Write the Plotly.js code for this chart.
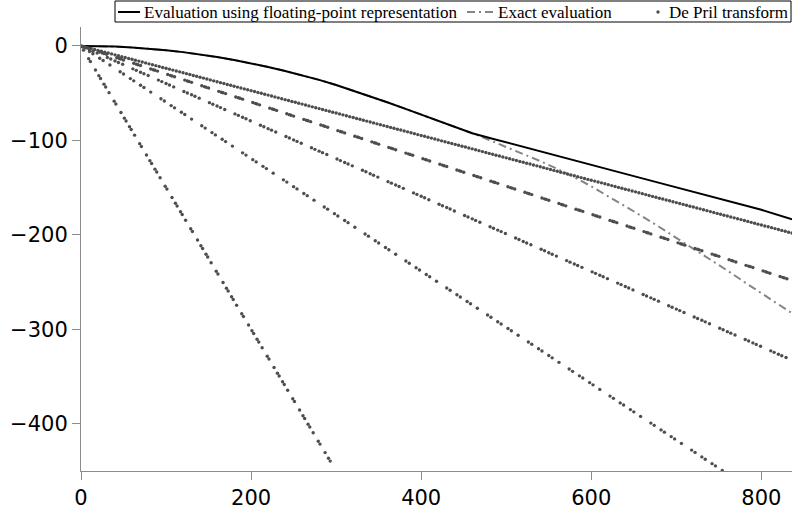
<!DOCTYPE html>
<html>
<head>
<meta charset="utf-8">
<script src="https://cdn.plot.ly/plotly-3.0.1.min.js"></script>
<style>html,body{margin:0;padding:0;background:#fff;}#chart{width:792px;height:514px;}</style>
</head>
<body>
<div id="chart"></div>
<script>
// Curves
const floatX = [0,20,40,60,80,100,120,140,160,180,200,220,240,260,280,300,320,340,360,380,400,420,440,460,485,520,560,600,640,680,720,760,800,836];
const floatY = [0,-0.2,-0.7,-1.7,-2.9,-4.6,-6.6,-9.0,-11.8,-14.9,-18.4,-22.3,-26.5,-31.1,-36,-41.4,-47.2,-53.2,-59.6,-66.1,-72.6,-79.1,-85.6,-92.5,-98.5,-107,-116.5,-126,-135.5,-145,-154.5,-164,-173.5,-183.5];
const exactX = [0,20,40,60,80,100,120,140,160,180,200,220,240,260,280,300,320,340,360,380,400,420,440,460,480,500,520,540,560,580,600,620,640,660,680,700,720,740,760,780,800,820,836];
const exactY = [0,-0.2,-0.7,-1.7,-2.9,-4.6,-6.6,-9.0,-11.8,-14.9,-18.4,-22.3,-26.5,-31.1,-36,-41.4,-47.2,-53.2,-59.6,-66.1,-72.6,-79.1,-85.6,-92.5,-99.6,-107,-114.4,-122,-130.2,-139,-148.7,-159,-169.6,-180.5,-191.7,-203,-214.4,-226,-237.8,-250,-262,-274,-283];

// De Pril transform dots, grouped by the band they fall on
const deprilAX = [0,4,8,12,16,20,24,28,32,36,40,44,48,52,56,60,64,68,72,76,80,84,88,92,96,100,104,108,112,116,120,124,128,132,136,140,144,148,152,156,160,164,168,172,176,180,184,188,192,196,200,204,208,212,216,220,224,228,232,236,240,244,248,252,256,260,264,268,272,276,280,284,288,292,296,300,304,308,312,316,320,324,328,332,336,340,344,348,352,356,360,364,368,372,376,380,384,388,392,396,400,404,408,412,416,420,424,428,432,436,440,444,448,452,456,460,464,468,472,476,480,484,488,492,496,500,504,508,512,516,520,524,528,532,536,540,544,548,552,556,560,564,568,572,576,580,584,588,592,596,600,604,608,612,616,620,624,628,632,636,640,644,648,652,656,660,664,668,672,676,680,684,688,692,696,700,704,708,712,716,720,724,728,732,736,740,744,748,752,756,760,764,768,772,776,780,784,788,792,796,800,804,808,812,816,820,824,828,832,836];
const deprilAY = [0,-0.9,-1.9,-2.8,-3.8,-4.7,-5.7,-6.6,-7.6,-8.5,-9.5,-10.4,-11.4,-12.3,-13.3,-14.2,-15.2,-16.1,-17.1,-18.0,-19.0,-19.9,-20.9,-21.8,-22.8,-23.7,-24.6,-25.6,-26.5,-27.5,-28.4,-29.4,-30.3,-31.3,-32.2,-33.2,-34.1,-35.1,-36.0,-37.0,-37.9,-38.9,-39.8,-40.8,-41.7,-42.7,-43.6,-44.6,-45.5,-46.5,-47.4,-48.3,-49.3,-50.2,-51.2,-52.1,-53.1,-54.0,-55.0,-55.9,-56.9,-57.8,-58.8,-59.7,-60.7,-61.6,-62.6,-63.5,-64.5,-65.4,-66.4,-67.3,-68.3,-69.2,-70.2,-71.1,-72.0,-73.0,-73.9,-74.9,-75.8,-76.8,-77.7,-78.7,-79.6,-80.6,-81.5,-82.5,-83.4,-84.4,-85.3,-86.3,-87.2,-88.2,-89.1,-90.1,-91.0,-92.0,-92.9,-93.9,-94.8,-95.7,-96.7,-97.6,-98.6,-99.5,-100.5,-101.4,-102.4,-103.3,-104.3,-105.2,-106.2,-107.1,-108.1,-109.0,-110.0,-110.9,-111.9,-112.8,-113.8,-114.7,-115.7,-116.6,-117.6,-118.5,-119.5,-120.4,-121.3,-122.3,-123.2,-124.2,-125.1,-126.1,-127.0,-128.0,-128.9,-129.9,-130.8,-131.8,-132.7,-133.7,-134.6,-135.6,-136.5,-137.5,-138.4,-139.4,-140.3,-141.3,-142.2,-143.1,-144.1,-145.0,-146.0,-146.9,-147.9,-148.8,-149.8,-150.7,-151.7,-152.6,-153.6,-154.5,-155.5,-156.4,-157.4,-158.3,-159.3,-160.2,-161.2,-162.1,-163.1,-164.0,-165.0,-165.9,-166.9,-167.8,-168.7,-169.7,-170.6,-171.6,-172.5,-173.5,-174.4,-175.4,-176.3,-177.3,-178.2,-179.2,-180.1,-181.1,-182.0,-183.0,-183.9,-184.9,-185.8,-186.8,-187.7,-188.7,-189.6,-190.6,-191.5,-192.4,-193.4,-194.3,-195.3,-196.2,-197.2,-198.1];

const deprilBX = [2,5,7,10,22,25,27,30,42,45,47,50,62,65,67,70,82,85,87,90,102,105,107,110,122,125,127,130,142,145,147,150,162,165,167,170,182,185,187,190,202,205,207,210,222,225,227,230,242,245,247,250,262,265,267,270,282,285,287,290,302,305,307,310,322,325,327,330,342,345,347,350,362,365,367,370,382,385,387,390,402,405,407,410,422,425,427,430,442,445,447,450,462,465,467,470,482,485,487,490,502,505,507,510,522,525,527,530,542,545,547,550,562,565,567,570,582,585,587,590,602,605,607,610,622,625,627,630,642,645,647,650,662,665,667,670,682,685,687,690,702,705,707,710,722,725,727,730,742,745,747,750,762,765,767,770,782,785,787,790,802,805,807,810,822,825,827,830];
const deprilBY = [-0.6,-1.5,-2.1,-3.0,-6.5,-7.4,-8.0,-8.9,-12.5,-13.4,-14.0,-14.9,-18.4,-19.3,-19.9,-20.8,-24.4,-25.2,-25.8,-26.7,-30.3,-31.2,-31.8,-32.7,-36.2,-37.1,-37.7,-38.6,-42.2,-43.1,-43.7,-44.6,-48.1,-49.0,-49.6,-50.5,-54.1,-54.9,-55.5,-56.4,-60.0,-60.9,-61.5,-62.4,-65.9,-66.8,-67.4,-68.3,-71.9,-72.8,-73.4,-74.3,-77.8,-78.7,-79.3,-80.2,-83.8,-84.6,-85.2,-86.1,-89.7,-90.6,-91.2,-92.1,-95.6,-96.5,-97.1,-98.0,-101.6,-102.5,-103.1,-104.0,-107.5,-108.4,-109.0,-109.9,-113.5,-114.3,-114.9,-115.8,-119.4,-120.3,-120.9,-121.8,-125.3,-126.2,-126.8,-127.7,-131.3,-132.2,-132.8,-133.7,-137.2,-138.1,-138.7,-139.6,-143.2,-144.0,-144.6,-145.5,-149.1,-150.0,-150.6,-151.5,-155.0,-155.9,-156.5,-157.4,-161.0,-161.9,-162.5,-163.4,-166.9,-167.8,-168.4,-169.3,-172.9,-173.7,-174.3,-175.2,-178.8,-179.7,-180.3,-181.2,-184.7,-185.6,-186.2,-187.1,-190.7,-191.6,-192.2,-193.1,-196.6,-197.5,-198.1,-199.0,-202.6,-203.4,-204.0,-204.9,-208.5,-209.4,-210.0,-210.9,-214.4,-215.3,-215.9,-216.8,-220.4,-221.3,-221.9,-222.8,-226.3,-227.2,-227.8,-228.7,-232.3,-233.1,-233.7,-234.6,-238.2,-239.1,-239.7,-240.6,-244.1,-245.0,-245.6,-246.5];

const deprilCX = [1,5,10,14,19,31,35,40,44,49,61,65,70,74,79,91,95,100,104,109,121,125,130,134,139,151,155,160,164,169,181,185,190,194,199,211,215,220,224,229,241,245,250,254,259,271,275,280,284,289,301,305,310,314,319,331,335,340,344,349,361,365,370,374,379,391,395,400,404,409,421,425,430,434,439,451,455,460,464,469,481,485,490,494,499,511,515,520,524,529,541,545,550,554,559,571,575,580,584,589,601,605,610,614,619,631,635,640,644,649,661,665,670,674,679,691,695,700,704,709,721,725,730,734,739,751,755,760,764,769,781,785,790,794,799,811,815,820,824,829];
const deprilCY = [-0.4,-2.0,-4.0,-5.6,-7.6,-12.3,-13.9,-15.9,-17.5,-19.5,-24.3,-25.9,-27.9,-29.5,-31.4,-36.2,-37.8,-39.8,-41.4,-43.4,-48.2,-49.8,-51.7,-53.3,-55.3,-60.1,-61.7,-63.7,-65.3,-67.3,-72.0,-73.6,-75.6,-77.2,-79.2,-84.0,-85.6,-87.6,-89.2,-91.1,-95.9,-97.5,-99.5,-101.1,-103.1,-107.9,-109.5,-111.4,-113.0,-115.0,-119.8,-121.4,-123.4,-125.0,-127.0,-131.7,-133.3,-135.3,-136.9,-138.9,-143.7,-145.3,-147.3,-148.9,-150.8,-155.6,-157.2,-159.2,-160.8,-162.8,-167.6,-169.2,-171.1,-172.7,-174.7,-179.5,-181.1,-183.1,-184.7,-186.7,-191.4,-193.0,-195.0,-196.6,-198.6,-203.4,-205.0,-207.0,-208.6,-210.5,-215.3,-216.9,-218.9,-220.5,-222.5,-227.3,-228.9,-230.8,-232.4,-234.4,-239.2,-240.8,-242.8,-244.4,-246.4,-251.1,-252.7,-254.7,-256.3,-258.3,-263.1,-264.7,-266.7,-268.3,-270.2,-275.0,-276.6,-278.6,-280.2,-282.2,-287.0,-288.6,-290.5,-292.1,-294.1,-298.9,-300.5,-302.5,-304.1,-306.1,-310.8,-312.4,-314.4,-316.0,-318.0,-322.8,-324.4,-326.4,-328.0,-329.9];

const deprilDX = [2,10,14,22,26,34,46,50,58,62,70,74,82,94,98,106,110,118,122,130,142,146,154,158,166,170,178,190,194,202,206,214,218,226,238,242,250,254,262,266,274,286,290,298,302,310,314,322,334,338,346,350,358,362,370,382,386,394,398,406,410,418,430,434,442,446,454,458,466,478,482,490,494,502,506,514,526,530,538,542,550,554,562,574,578,586,590,598,602,610,622,626,634,638,646,650,658,670,674,682,686,694,698,706,718,722,730,734,742,746,754];
const deprilDY = [-1.2,-6.0,-8.3,-13.1,-15.5,-20.3,-27.4,-29.8,-34.6,-37.0,-41.7,-44.1,-48.9,-56.0,-58.4,-63.2,-65.6,-70.3,-72.7,-77.5,-84.6,-87.0,-91.8,-94.2,-98.9,-101.3,-106.1,-113.2,-115.6,-120.4,-122.8,-127.5,-129.9,-134.7,-141.8,-144.2,-149.0,-151.4,-156.2,-158.5,-163.3,-170.5,-172.8,-177.6,-180.0,-184.8,-187.1,-191.9,-199.1,-201.4,-206.2,-208.6,-213.4,-215.8,-220.5,-227.7,-230.1,-234.8,-237.2,-242.0,-244.4,-249.1,-256.3,-258.7,-263.4,-265.8,-270.6,-273.0,-277.7,-284.9,-287.3,-292.0,-294.4,-299.2,-301.6,-306.3,-313.5,-315.9,-320.6,-323.0,-327.8,-330.2,-335.0,-342.1,-344.5,-349.3,-351.6,-356.4,-358.8,-363.6,-370.7,-373.1,-377.9,-380.2,-385.0,-387.4,-392.2,-399.3,-401.7,-406.5,-408.9,-413.6,-416.0,-420.8,-427.9,-430.3,-435.1,-437.5,-442.2,-444.6,-449.4];

const deprilEX = [3,9,11,17,21,23,27,29,33,39,41,47,51,53,57,59,63,69,71,77,81,83,87,89,93,99,101,107,111,113,117,119,123,129,131,137,141,143,147,149,153,159,161,167,171,173,177,179,183,189,191,197,201,203,207,209,213,219,221,227,231,233,237,239,243,249,251,257,261,263,267,269,273,279,281,287,291,293];
const deprilEY = [-4.5,-13.5,-16.5,-25.5,-31.5,-34.5,-40.5,-43.5,-49.5,-58.5,-61.5,-70.5,-76.5,-79.5,-85.5,-88.5,-94.5,-103.5,-106.5,-115.5,-121.5,-124.5,-130.5,-133.5,-139.5,-148.5,-151.5,-160.5,-166.5,-169.5,-175.5,-178.5,-184.5,-193.5,-196.5,-205.5,-211.5,-214.5,-220.5,-223.5,-229.5,-238.5,-241.5,-250.5,-256.5,-259.5,-265.5,-268.5,-274.5,-283.5,-286.5,-295.5,-301.5,-304.5,-310.5,-313.5,-319.5,-328.5,-331.5,-340.5,-346.5,-349.5,-355.5,-358.5,-364.5,-373.5,-376.5,-385.5,-391.5,-394.5,-400.5,-403.5,-409.5,-418.5,-421.5,-430.5,-436.5,-439.5];

const xTicks = [0,200,400,600,800];
const yTicks = [0,-100,-200,-300,-400];
const seriesNames = ['Evaluation using floating-point representation', 'Exact evaluation', 'De Pril transform'];

const dpX = [].concat(deprilAX, deprilBX, deprilCX, deprilDX, deprilEX);
const dpY = [].concat(deprilAY, deprilBY, deprilCY, deprilDY, deprilEY);

const floatColor = '#000000', exactColor = '#858585', dotColor = '#4d4d4d';
const exactDash = '8px,4px,2px,4px';

const traces = [
  {x: exactX, y: exactY, type: 'scatter', mode: 'lines', name: seriesNames[1],
   line: {color: exactColor, width: 2, dash: exactDash}},
  {x: floatX, y: floatY, type: 'scatter', mode: 'lines', name: seriesNames[0],
   line: {color: floatColor, width: 2}},
  {x: dpX, y: dpY, type: 'scatter', mode: 'markers', name: seriesNames[2],
   marker: {color: dotColor, size: 3.4, line: {width: 0}}}
];

const axisCommon = {
  showline: true, linecolor: '#8c8c8c', linewidth: 1,
  ticks: 'outside', ticklen: 8, tickcolor: '#8c8c8c', tickwidth: 1,
  showgrid: false, zeroline: false,
  tickfont: {family: 'DejaVu Sans', size: 21, color: '#000'}
};

// plot area: x 81..792 px, y 27..471 px; helpers convert page pixels to paper fractions for the legend box
const L = 81, T = 27, W = 711, H = 444;
const px = v => (v - L) / W;
const py = v => (T + H - v) / H;
const legY = py(12);
const legFont = {family: 'Liberation Serif', size: 17, color: '#000'};

const layout = {
  width: 792, height: 514,
  margin: {l: 81, r: 0, t: 27, b: 43, pad: 0, autoexpand: false},
  paper_bgcolor: '#fff', plot_bgcolor: '#fff',
  showlegend: false,
  xaxis: Object.assign({}, axisCommon, {range: [0, 836], tickvals: xTicks, ticktext: xTicks.map(String)}),
  yaxis: Object.assign({}, axisCommon, {range: [-450, 20], tickvals: yTicks}),
  shapes: [
    {type: 'rect', xref: 'paper', yref: 'paper', x0: px(115), x1: px(791), y0: py(22), y1: py(1),
     line: {color: '#000', width: 1}, fillcolor: 'rgba(0,0,0,0)', layer: 'above'},
    {type: 'line', xref: 'paper', yref: 'paper', x0: px(118), x1: px(140), y0: legY, y1: legY,
     line: {color: floatColor, width: 2}, layer: 'above'},
    {type: 'line', xref: 'paper', yref: 'paper', x0: px(467), x1: px(493), y0: legY, y1: legY,
     line: {color: exactColor, width: 2, dash: exactDash}, layer: 'above'},
    {type: 'circle', xref: 'paper', yref: 'paper', x0: px(656.3), x1: px(659.7), y0: py(13.7), y1: py(10.3),
     line: {width: 0}, fillcolor: dotColor, layer: 'above'}
  ],
  annotations: [
    {xref: 'paper', yref: 'paper', x: px(143), y: legY, xanchor: 'left', yanchor: 'middle', showarrow: false,
     text: seriesNames[0], font: legFont, borderpad: 0},
    {xref: 'paper', yref: 'paper', x: px(497), y: legY, xanchor: 'left', yanchor: 'middle', showarrow: false,
     text: seriesNames[1], font: legFont, borderpad: 0},
    {xref: 'paper', yref: 'paper', x: px(789), y: legY, xanchor: 'right', yanchor: 'middle', showarrow: false,
     text: seriesNames[2], font: legFont, borderpad: 0}
  ]
};

Plotly.newPlot('chart', traces, layout, {displayModeBar: false, staticPlot: true});
</script>
</body>
</html>
